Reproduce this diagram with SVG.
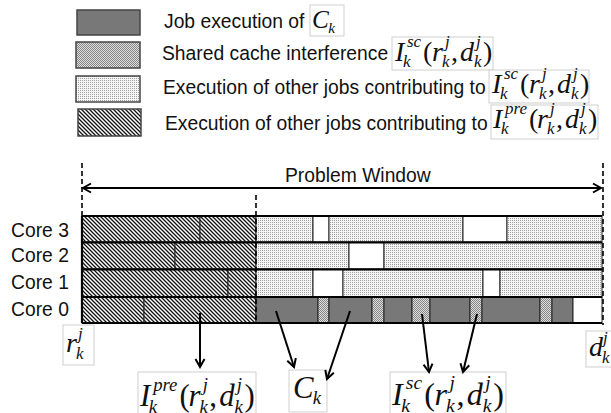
<svg xmlns="http://www.w3.org/2000/svg" xmlns:xlink="http://www.w3.org/1999/xlink" width="611" height="413" viewBox="0 0 611 413">
  <style>
    .lbl { font-family: "Liberation Sans", Arial, sans-serif; font-size: 19.3px; fill: #111; }
    .mi { font-family: "Liberation Serif", "Times New Roman", serif; font-style: italic; font-size: 28px; fill: #111; }
    .mu { font-style: normal; }
    .ms { font-size: 17px; }
    .mbox { fill: #fff; stroke: #cfcfcf; stroke-width: 1; }
    .key { stroke: #444; stroke-width: 1.5; }
    .blk { stroke: #222; stroke-width: 1; }
    .dark { fill: #787878; }
    .hatch { fill: url(#hatch); }
    .chk { fill: url(#chk); }
    .dot { fill: url(#dot); }
    .free { fill: #fff; }
    .sep { stroke: #000; stroke-width: 2.2; fill: none; }
    .dash { stroke: #000; stroke-width: 1.6; stroke-dasharray: 5 3; fill: none; }
    .conn { stroke: #000; stroke-width: 2; fill: none; }
  </style>
  <defs>
    <!-- fill patterns for the block kinds -->
    <pattern id="hatch" width="4" height="4" patternUnits="userSpaceOnUse">
      <rect width="4" height="4" fill="#fff"/>
      <path d="M-1,3 L1,5 M0,0 L4,4 M3,-1 L5,1" stroke="#111" stroke-width="1.3"/>
    </pattern>
    <pattern id="chk" width="2" height="2" patternUnits="userSpaceOnUse">
      <rect width="2" height="2" fill="#dedede"/>
      <rect width="1" height="1" fill="#858585"/>
      <rect x="1" y="1" width="1" height="1" fill="#858585"/>
    </pattern>
    <pattern id="dot" width="2" height="2" patternUnits="userSpaceOnUse">
      <rect width="2" height="2" fill="#f5f5f5"/>
      <rect width="1" height="1" fill="#a0a0a0"/>
    </pattern>
    <marker id="head" viewBox="-10 -6 12 12" refX="0" refY="0" markerWidth="12" markerHeight="12" markerUnits="userSpaceOnUse" orient="auto-start-reverse">
      <path d="M-8,-4.5 L0,0 L-8,4.5" fill="none" stroke="#000" stroke-width="2"/>
    </marker>
    <!-- formula glyph groups, baseline at y=0 -->
    <g id="f-isc">
      <text class="mi"><tspan x="0" y="0">I</tspan><tspan class="ms" x="12" y="-14">sc</tspan><tspan class="ms" x="8" y="6">k</tspan><tspan class="mu" x="28" y="0">(</tspan><tspan x="37" y="0">r</tspan><tspan class="ms" x="50" y="-14">j</tspan><tspan class="ms" x="47" y="6">k</tspan><tspan class="mu" x="56" y="0">,</tspan><tspan x="65" y="0">d</tspan><tspan class="ms" x="81" y="-14">j</tspan><tspan class="ms" x="79" y="6">k</tspan><tspan class="mu" x="88" y="0">)</tspan></text>
    </g>
    <g id="f-ipre">
      <text class="mi"><tspan x="0" y="0">I</tspan><tspan class="ms" x="12" y="-14">pre</tspan><tspan class="ms" x="8" y="6">k</tspan><tspan class="mu" x="36" y="0">(</tspan><tspan x="44" y="0">r</tspan><tspan class="ms" x="57" y="-14">j</tspan><tspan class="ms" x="54" y="6">k</tspan><tspan class="mu" x="63" y="0">,</tspan><tspan x="72" y="0">d</tspan><tspan class="ms" x="88" y="-14">j</tspan><tspan class="ms" x="86" y="6">k</tspan><tspan class="mu" x="95" y="0">)</tspan></text>
    </g>
    <g id="f-ck">
      <text class="mi"><tspan x="0" y="0">C</tspan><tspan class="ms" x="18" y="5">k</tspan></text>
    </g>
    <g id="f-r">
      <text class="mi"><tspan x="0" y="0">r</tspan><tspan class="ms" x="12" y="-13">j</tspan><tspan class="ms" x="10" y="7">k</tspan></text>
    </g>
    <g id="f-d">
      <text class="mi"><tspan x="0" y="0">d</tspan><tspan class="ms" x="14" y="-13">j</tspan><tspan class="ms" x="13" y="7">k</tspan></text>
    </g>
  </defs>

  <rect width="611" height="413" fill="#fff"/>

  <!-- legend -->
  <g id="legend-job">
    <rect class="key dark" x="77" y="10" width="63" height="25"/>
    <text class="lbl" x="164" y="28">Job execution of</text>
    <rect class="mbox" x="310" y="5" width="34" height="31"/>
    <use xlink:href="#f-ck" transform="translate(312,28) scale(0.9)"/>
  </g>
  <g id="legend-sc">
    <rect class="key chk" x="76" y="42" width="64" height="26"/>
    <text class="lbl" x="162" y="60">Shared cache interference</text>
    <rect class="mbox" x="392" y="37" width="101" height="33"/>
    <use xlink:href="#f-isc" x="395" y="61"/>
  </g>
  <g id="legend-other-sc">
    <rect class="key dot" x="76" y="76" width="64" height="26"/>
    <text class="lbl" x="163" y="94">Execution of other jobs contributing to</text>
    <rect class="mbox" x="489" y="70" width="100" height="33"/>
    <use xlink:href="#f-isc" x="492" y="93"/>
  </g>
  <g id="legend-other-pre">
    <rect class="key hatch" x="78" y="109" width="63" height="27"/>
    <text class="lbl" x="165" y="130">Execution of other jobs contributing to</text>
    <rect class="mbox" x="491" y="105" width="107" height="34"/>
    <use xlink:href="#f-ipre" x="493" y="128"/>
  </g>

  <!-- problem window -->
  <g id="window">
    <text class="lbl" x="285" y="182">Problem Window</text>
    <line class="conn" x1="83" y1="188" x2="601" y2="188" marker-start="url(#head)" marker-end="url(#head)"/>
  </g>

  <!-- core rows -->
  <g id="core3">
    <text class="lbl" x="11" y="237">Core 3</text>
    <rect class="blk hatch" x="82" y="216" width="118" height="26"/>
    <rect class="blk hatch" x="200" y="216" width="56" height="26"/>
    <rect class="blk dot" x="256" y="216" width="57" height="26"/>
    <rect class="blk free" x="313" y="216" width="16" height="26"/>
    <rect class="blk dot" x="329" y="216" width="134" height="26"/>
    <rect class="blk free" x="463" y="216" width="44" height="26"/>
    <rect class="blk dot" x="507" y="216" width="95" height="26"/>
  </g>
  <g id="core2">
    <text class="lbl" x="11" y="262">Core 2</text>
    <rect class="blk hatch" x="82" y="242" width="93" height="27"/>
    <rect class="blk hatch" x="175" y="242" width="81" height="27"/>
    <rect class="blk dot" x="256" y="242" width="93" height="27"/>
    <rect class="blk free" x="349" y="242" width="35" height="27"/>
    <rect class="blk dot" x="384" y="242" width="218" height="27"/>
  </g>
  <g id="core1">
    <text class="lbl" x="11" y="289">Core 1</text>
    <rect class="blk hatch" x="82" y="269" width="146" height="28"/>
    <rect class="blk hatch" x="228" y="269" width="28" height="28"/>
    <rect class="blk dot" x="256" y="269" width="57" height="28"/>
    <rect class="blk free" x="313" y="269" width="30" height="28"/>
    <rect class="blk dot" x="343" y="269" width="140" height="28"/>
    <rect class="blk free" x="483" y="269" width="17" height="28"/>
    <rect class="blk dot" x="500" y="269" width="102" height="28"/>
  </g>
  <g id="core0">
    <text class="lbl" x="11" y="316">Core 0</text>
    <rect class="blk hatch" x="82" y="297" width="62" height="26"/>
    <rect class="blk hatch" x="144" y="297" width="112" height="26"/>
    <rect class="blk dark" x="256" y="297" width="62" height="26"/>
    <rect class="blk chk" x="318" y="297" width="11" height="26"/>
    <rect class="blk dark" x="329" y="297" width="43" height="26"/>
    <rect class="blk chk" x="372" y="297" width="12" height="26"/>
    <rect class="blk dark" x="384" y="297" width="28" height="26"/>
    <rect class="blk chk" x="412" y="297" width="18" height="26"/>
    <rect class="blk dark" x="430" y="297" width="40" height="26"/>
    <rect class="blk chk" x="470" y="297" width="12" height="26"/>
    <rect class="blk dark" x="482" y="297" width="58" height="26"/>
    <rect class="blk chk" x="540" y="297" width="12" height="26"/>
    <rect class="blk dark" x="552" y="297" width="21" height="26"/>
    <rect class="blk free" x="573" y="297" width="29" height="26"/>
  </g>

  <!-- row separators and window bounds -->
  <g id="grid">
    <path class="sep" d="M82,216 H602 M82,242.5 H602 M82,269.5 H602 M82,297 H602 M82,323 H602 M82,216 V323"/>
    <path class="dash" d="M82,163 V216 M256,195 V323 M603,163 V325"/>
  </g>

  <!-- time and demand labels -->
  <g id="label-r">
    <rect class="mbox" x="63" y="325" width="31" height="40"/>
    <use xlink:href="#f-r" x="66" y="352"/>
  </g>
  <g id="label-d">
    <rect class="mbox" x="586" y="331" width="30" height="36"/>
    <use xlink:href="#f-d" x="589" y="356"/>
  </g>
  <g id="label-ipre">
    <rect class="mbox" x="138" y="372" width="118" height="42"/>
    <use xlink:href="#f-ipre" transform="translate(140,406) scale(1.1)"/>
  </g>
  <g id="label-ck">
    <rect class="mbox" x="289" y="370" width="38" height="42"/>
    <use xlink:href="#f-ck" transform="translate(293,398) scale(1.1)"/>
  </g>
  <g id="label-isc">
    <rect class="mbox" x="390" y="372" width="116" height="42"/>
    <use xlink:href="#f-isc" transform="translate(392,405) scale(1.15)"/>
  </g>

  <!-- connectors -->
  <g id="connectors">
    <line class="conn" x1="200" y1="313" x2="200" y2="367" marker-end="url(#head)"/>
    <line class="conn" x1="276" y1="311" x2="294" y2="367" marker-end="url(#head)"/>
    <line class="conn" x1="350" y1="311" x2="327" y2="379" marker-end="url(#head)"/>
    <line class="conn" x1="422" y1="314" x2="429" y2="372" marker-end="url(#head)"/>
    <line class="conn" x1="477" y1="314" x2="463" y2="372" marker-end="url(#head)"/>
  </g>
</svg>
